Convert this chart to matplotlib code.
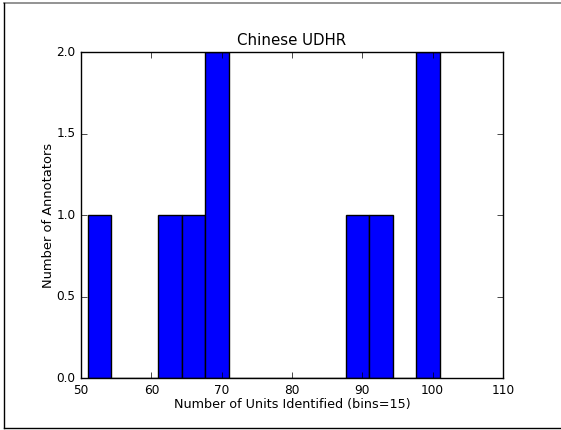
import matplotlib
matplotlib.use("Agg")
import matplotlib.pyplot as plt
from matplotlib.lines import Line2D

# units identified by each annotator
units_identified = [51, 62, 65, 68, 69, 88, 92, 100, 101]
n_bins = 15

plt.style.use('classic')
plt.rcParams['font.family'] = 'DejaVu Sans'
plt.rcParams['xtick.labelsize'] = 8.7
plt.rcParams['ytick.labelsize'] = 8.7

fig = plt.figure(figsize=(5.61, 4.30), dpi=100, facecolor='white')
ax = fig.add_axes([0.1444, 0.1209, 0.7522, 0.7581])

ax.hist(units_identified, bins=n_bins, color='blue', edgecolor='black')
ax.set_xlim(50, 110)
ax.set_ylim(0, 2)
ax.set_xticks([50, 60, 70, 80, 90, 100, 110])
ax.set_yticks([0.0, 0.5, 1.0, 1.5, 2.0])
ax.set_title('Chinese UDHR', fontsize=10.8)
ax.set_xlabel('Number of Units Identified (bins=15)', fontsize=9.2, labelpad=1)
ax.set_ylabel('Number of Annotators', fontsize=9.4, labelpad=1)

# border of the screenshot (top, left, bottom)
fig.add_artist(Line2D([4/561, 1], [1 - 3/430, 1 - 3/430], transform=fig.transFigure, color='gray', lw=1.2))
fig.add_artist(Line2D([4/561, 4/561], [1 - 3/430, 1 - 428/430], transform=fig.transFigure, color='black', lw=1))
fig.add_artist(Line2D([4/561, 1], [1 - 428/430, 1 - 428/430], transform=fig.transFigure, color='black', lw=1))

fig.savefig('out.png', dpi=100, facecolor='white')
